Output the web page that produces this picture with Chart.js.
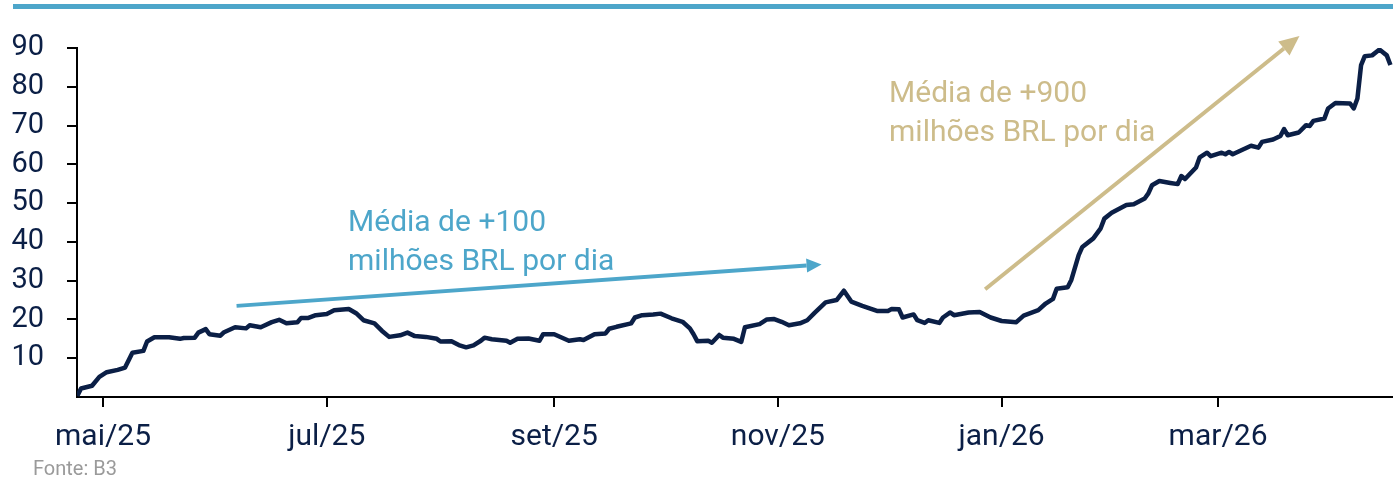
<!DOCTYPE html>
<html>
<head>
<meta charset="utf-8">
<title>Volume diário - B3</title>
<script src="https://cdn.jsdelivr.net/npm/chart.js@4.4.1/dist/chart.umd.min.js"></script>
<style>
  body { margin: 0; background: #fff; }
  #wrap { width: 1393px; height: 478px; position: relative; }
</style>
</head>
<body>
<div id="wrap">
  <canvas id="line-chart" width="1393" height="478"></canvas>
</div>

<script>
  // days since 1 May 2025
  const dayOffset = [
    -7, -6, -3, -1, 1, 4, 6, 8, 11, 12, 14, 18, 21, 22, 25, 26, 28, 29, 32, 33,
    36, 39, 40, 43, 46, 48, 50, 53, 54, 56, 58, 61, 63, 67, 69, 71, 74, 76, 78, 81,
    83, 85, 88, 91, 92, 95, 97, 99, 101, 103, 104, 106, 110, 111, 113, 116, 119, 120, 123, 127,
    130, 131, 134, 137, 138, 140, 144, 145, 147, 150, 152, 155, 158, 160, 161, 162, 165, 166, 168, 169,
    172, 174, 175, 179, 181, 183, 185, 187, 190, 192, 194, 197, 200, 202, 204, 207, 211, 214, 215, 217,
    218, 221, 222, 224, 225, 228, 229, 231, 232, 236, 239, 242, 245, 249, 251, 253, 255, 257, 259, 260,
    263, 264, 266, 267, 270, 272, 273, 275, 279, 281, 284, 285, 286, 288, 291, 293, 294, 295, 298, 299,
    301, 302, 305, 306, 307, 308, 313, 315, 316, 319, 321, 322, 323, 326, 328, 329, 330, 333, 334, 336,
    340, 341, 342, 343, 344, 346, 348, 350, 351
  ];
  const values = [
    0.3, 2.2, 2.9, 5.2, 6.4, 7.0, 7.6, 11.4, 11.9, 14.3, 15.4, 15.4, 15.0, 15.2, 15.3, 16.6, 17.5, 16.2, 15.8, 16.7,
    18.0, 17.7, 18.5, 18.0, 19.3, 19.9, 19.0, 19.3, 20.4, 20.4, 21.1, 21.4, 22.4, 22.7, 21.6, 19.8, 19.0, 17.1, 15.5, 15.9,
    16.6, 15.7, 15.5, 15.0, 14.3, 14.4, 13.4, 12.8, 13.3, 14.5, 15.3, 14.9, 14.5, 14.0, 15.0, 15.1, 14.5, 16.2, 16.2, 14.5,
    14.9, 14.7, 16.2, 16.4, 17.6, 18.1, 19.0, 20.5, 21.1, 21.3, 21.5, 20.3, 19.4, 17.7, 16.2, 14.4, 14.5, 14.0, 16.0, 15.3,
    15.0, 14.2, 18.0, 18.8, 20.0, 20.1, 19.4, 18.5, 19.0, 19.8, 21.7, 24.4, 25.0, 27.4, 24.6, 23.5, 22.2, 22.2, 22.7, 22.6,
    20.5, 21.3, 19.8, 19.1, 19.8, 19.1, 20.5, 21.8, 21.1, 21.8, 21.9, 20.5, 19.6, 19.3, 21.0, 21.7, 22.4, 24.1, 25.3, 27.9,
    28.3, 30.2, 36.6, 38.7, 40.9, 43.5, 46.0, 47.5, 49.5, 49.7, 51.2, 52.5, 54.6, 55.7, 55.2, 54.9, 57.0, 56.2, 59.2, 61.8,
    63.0, 62.1, 63.0, 62.6, 63.2, 62.6, 64.8, 64.3, 65.8, 66.4, 67.3, 69.1, 67.5, 68.2, 70.1, 69.9, 71.2, 71.8, 74.4, 75.8,
    75.7, 74.4, 77.0, 85.6, 87.9, 88.1, 89.6, 88.1, 85.6
  ];

  const xTickDays = [0, 61, 123, 184, 245, 304];
  const xTickLabels = ["mai/25", "jul/25", "set/25", "nov/25", "jan/26", "mar/26"];
  const yTickValues = [10, 20, 30, 40, 50, 60, 70, 80, 90];

  // annotations, in (day, value) units
  const blueArrow = { from: [36.4, 23.5], to: [195.9, 34.2] };
  const goldArrow = { from: [240.5, 27.8], to: [326.2, 93.1] };
  const blueText = { at: [66.8, 42.8], lines: ["Média de +100", "milhões BRL por dia"] };
  const goldText = { at: [214.3, 76.0], lines: ["Média de +900", "milhões BRL por dia"] };

  const NAVY = "#0b1f46";
  const BLUE = "#4da6ca";
  const GOLD = "#cdbc8a";

  function arrow(ctx, x1, y1, x2, y2, color, width, headLen, headHalf) {
    const a = Math.atan2(y2 - y1, x2 - x1);
    const bx = x2 - headLen * Math.cos(a), by = y2 - headLen * Math.sin(a);
    ctx.save();
    ctx.strokeStyle = color; ctx.fillStyle = color; ctx.lineWidth = width;
    ctx.beginPath(); ctx.moveTo(x1, y1); ctx.lineTo(bx, by); ctx.stroke();
    ctx.beginPath();
    ctx.moveTo(x2, y2);
    ctx.lineTo(bx - headHalf * Math.sin(a), by + headHalf * Math.cos(a));
    ctx.lineTo(bx + headHalf * Math.sin(a), by - headHalf * Math.cos(a));
    ctx.closePath(); ctx.fill();
    ctx.restore();
  }

  const decor = {
    id: "decor",
    afterDatasetsDraw(chart) {
      const ctx = chart.ctx, xs = chart.scales.x, ys = chart.scales.y;
      const px = p => [xs.getPixelForValue(p[0]), ys.getPixelForValue(p[1])];

      // top bar
      ctx.save();
      ctx.fillStyle = BLUE;
      ctx.fillRect(13, 4, chart.width - 13, 5);
      ctx.restore();

      let a = px(blueArrow.from), b = px(blueArrow.to);
      arrow(ctx, a[0], a[1], b[0], b[1], BLUE, 4, 15, 7);
      a = px(goldArrow.from); b = px(goldArrow.to);
      arrow(ctx, a[0], a[1], b[0], b[1], GOLD, 4, 20, 9);

      ctx.save();
      ctx.font = "30px Roboto";
      ctx.textAlign = "left";
      ctx.textBaseline = "alphabetic";
      [[blueText, BLUE], [goldText, GOLD]].forEach(([t, c]) => {
        const p = px(t.at);
        ctx.fillStyle = c;
        t.lines.forEach((s, i) => ctx.fillText(s, p[0], p[1] + i * 39));
      });
      ctx.fillStyle = "#9a9a9a";
      ctx.font = "20px Roboto";
      ctx.fillText("Fonte: B3", 33, 475);
      ctx.restore();
    }
  };

  new Chart(document.getElementById("line-chart"), {
    type: "line",
    data: {
      datasets: [{
        data: dayOffset.map((d, i) => ({ x: d, y: values[i] })),
        borderColor: NAVY,
        borderWidth: 4.5,
        pointRadius: 0,
        tension: 0,
        borderJoinStyle: "round",
        fill: false
      }]
    },
    options: {
      responsive: false,
      animation: false,
      events: [],
      layout: { padding: { top: 48, right: 0, bottom: 0, left: 0 } },
      plugins: { legend: { display: false }, title: { display: false }, tooltip: { enabled: false } },
      scales: {
        x: {
          type: "linear",
          min: -7.1,
          max: 351.7,
          afterFit: s => { s.height = 81; },
          afterBuildTicks: s => { s.ticks = xTickDays.map(v => ({ value: v })); },
          border: { display: true, color: "#000", width: 2 },
          grid: { drawOnChartArea: false, drawTicks: true, tickLength: 10, color: "#000", lineWidth: 2 },
          ticks: {
            autoSkip: false, maxRotation: 0, padding: 12,
            color: NAVY, font: { family: "Roboto", size: 30 },
            callback: v => xTickLabels[xTickDays.indexOf(v)]
          }
        },
        y: {
          min: 0,
          max: 90,
          afterFit: s => { s.width = 77; },
          afterBuildTicks: s => { s.ticks = [0].concat(yTickValues).map(v => ({ value: v })); },
          border: { display: true, color: "#000", width: 2 },
          grid: {
            drawOnChartArea: false, drawTicks: true, tickLength: 10, lineWidth: 2,
            color: c => (c.tick && c.tick.value === 0) ? "rgba(0,0,0,0)" : "#000"
          },
          ticks: {
            padding: 23,
            color: NAVY, font: { family: "Roboto", size: 29 },
            callback: v => v === 0 ? "" : v
          }
        }
      }
    },
    plugins: [decor]
  });
</script>
</body>
</html>
